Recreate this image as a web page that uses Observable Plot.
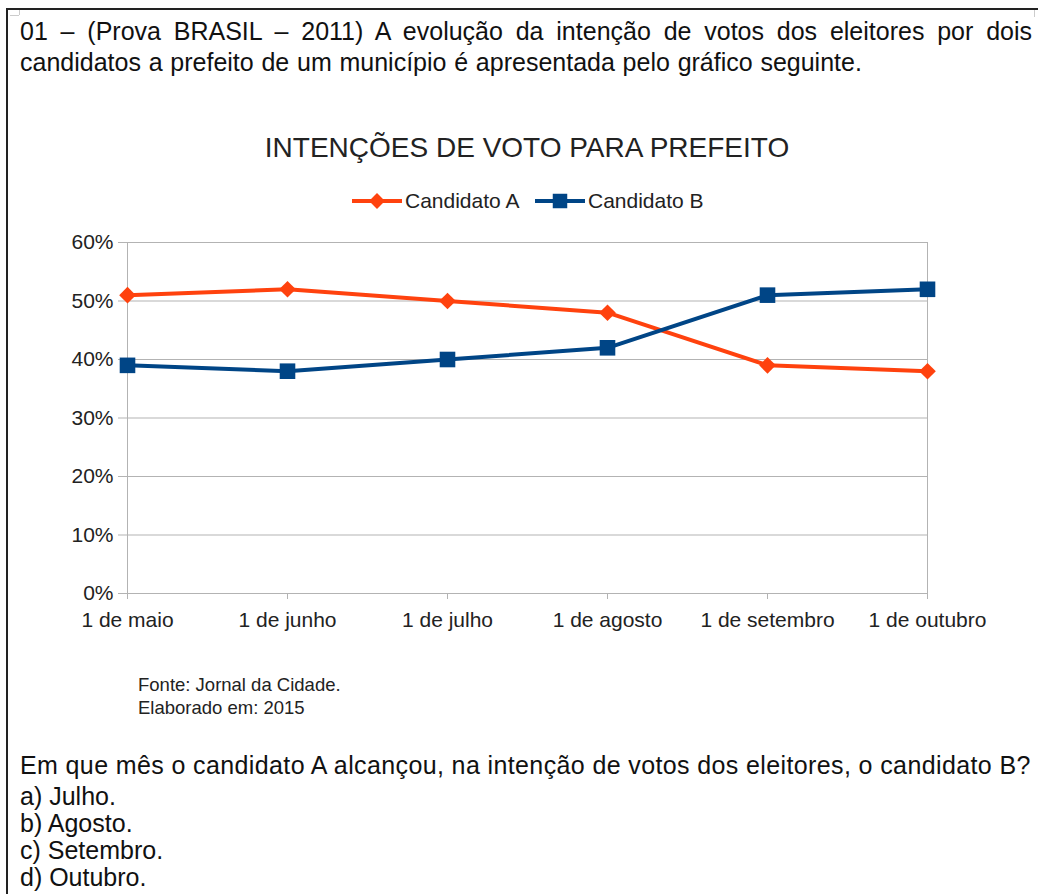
<!DOCTYPE html>
<html>
<head>
<meta charset="utf-8">
<script src="https://cdn.jsdelivr.net/npm/d3@7"></script>
<script src="https://cdn.jsdelivr.net/npm/@observablehq/plot@0.6"></script>
<style>
  html, body { margin: 0; padding: 0; background: #fff; }
  #page { position: relative; width: 1038px; height: 894px; overflow: hidden; font-family: "Liberation Sans", Arial, sans-serif; color: #111; }
  .abs { position: absolute; white-space: nowrap; }
  #frameTop { position: absolute; left: 6px; top: 8px; width: 1040px; height: 0; border-top: 2px solid #222; }
  #frameLeft { position: absolute; left: 6px; top: 8px; width: 0; height: 900px; border-left: 2px solid #222; }
  .q { font-size: 25px; line-height: 25px; }
  #chart { position: absolute; left: 0; top: 225px; }
</style>
</head>
<body>
<div id="page">
  <div id="frameTop"></div>
  <div id="frameLeft"></div>
  <div class="abs" style="left:10px;top:15px;width:9px;height:0;border-top:1px solid #ccc"></div>
  <div class="abs" style="left:19px;top:10px;width:0;height:5px;border-left:1px solid #ccc"></div>
  <div class="abs" style="left:1034px;top:10px;width:0;height:7px;border-left:1px solid #ccc"></div>

  <div class="abs q" id="l1" style="left:20px;top:19px;width:1012px;text-align:justify;text-align-last:justify;white-space:normal"></div>
  <div class="abs q" id="l2" style="left:20px;top:50px;word-spacing:0.8px"></div>

  <div class="abs" id="title" style="left:0;width:1054px;top:134px;text-align:center;font-size:28px;line-height:28px;color:#222"></div>
  <div class="abs" id="legend" style="left:0;top:188px;width:1038px;height:26px"></div>

  <div id="chart"></div>

  <div class="abs" id="src1" style="left:138px;top:676px;font-size:18.5px;line-height:18.5px;color:#222"></div>
  <div class="abs" id="src2" style="left:138px;top:699px;font-size:18.5px;line-height:18.5px;color:#222"></div>

  <div class="abs q" id="question" style="left:20px;top:753px;letter-spacing:0.38px"></div>
  <div id="answers"></div>
</div>
<script>
// ---- Data ----
const months = ["1 de maio", "1 de junho", "1 de julho", "1 de agosto", "1 de setembro", "1 de outubro"];
const seriesNames = ["Candidato A", "Candidato B"];
const candidatoA = [51, 52, 50, 48, 39, 38];
const candidatoB = [39, 38, 40, 42, 51, 52];
const yTicks = [0, 10, 20, 30, 40, 50, 60];
const colors = ["#ff420e", "#004586"];

const headerLines = [
  "01 – (Prova BRASIL – 2011) A evolução da intenção de votos dos eleitores por dois",
  "candidatos a prefeito de um município é apresentada pelo gráfico seguinte."
];
const chartTitle = "INTENÇÕES DE VOTO PARA PREFEITO";
const sourceLines = ["Fonte: Jornal da Cidade.", "Elaborado em: 2015"];
const questionText = "Em que mês o candidato A alcançou, na intenção de votos dos eleitores, o candidato B?";
const answers = ["a) Julho.", "b) Agosto.", "c) Setembro.", "d) Outubro."];

// ---- Texts ----
document.getElementById("l1").textContent = headerLines[0];
document.getElementById("l2").textContent = headerLines[1];
document.getElementById("title").textContent = chartTitle;
document.getElementById("src1").textContent = sourceLines[0];
document.getElementById("src2").textContent = sourceLines[1];
document.getElementById("question").textContent = questionText;
const ansDiv = document.getElementById("answers");
answers.forEach((a, i) => {
  const d = document.createElement("div");
  d.className = "abs q";
  d.style.left = "20px";
  d.style.top = (784 + i * 27) + "px";
  d.textContent = a;
  ansDiv.appendChild(d);
});

// ---- Legend ----
const leg = d3.select("#legend").append("svg").attr("width", 1038).attr("height", 26);
const legendItems = [
  {name: seriesNames[0], x: 352, color: colors[0], symbol: d3.symbolDiamond2, size: 160},
  {name: seriesNames[1], x: 535, color: colors[1], symbol: d3.symbolSquare, size: 210}
];
legendItems.forEach(it => {
  const g = leg.append("g").attr("transform", `translate(${it.x},13)`);
  g.append("line").attr("x1", 0).attr("x2", 50).attr("y1", 0).attr("y2", 0).attr("stroke", it.color).attr("stroke-width", 4);
  g.append("path").attr("d", d3.symbol(it.symbol, it.size)()).attr("transform", "translate(25,0)").attr("fill", it.color);
  g.append("text").attr("x", 53).attr("y", 0).attr("dy", "0.35em").attr("font-size", 21)
    .attr("font-family", "Liberation Sans, Arial, sans-serif").attr("fill", "#222").text(it.name);
});

// ---- Chart ----
const data = months.flatMap((m, i) => [
  {month: m, serie: seriesNames[0], v: candidatoA[i]},
  {month: m, serie: seriesNames[1], v: candidatoB[i]}
]);

const chart = Plot.plot({
  width: 1038,
  height: 413,
  marginLeft: 126,
  marginRight: 111,
  marginTop: 17,
  marginBottom: 45,
  style: {fontFamily: "Liberation Sans, Arial, sans-serif", fontSize: "21px", color: "#222", background: "transparent", overflow: "visible"},
  x: {type: "point", domain: months, padding: 0, label: null},
  y: {domain: [0, 60], label: null},
  color: {domain: seriesNames, range: colors},
  marks: [
    Plot.ruleY(yTicks, {stroke: "#b3b3b3", strokeWidth: 1}),
    Plot.ruleX([months[0], months[months.length - 1]], {y1: 0, y2: 60, stroke: "#b3b3b3", strokeWidth: 1}),
    Plot.axisY({ticks: yTicks, tickFormat: d => d + "%", tickSize: 8, tickPadding: 5, stroke: "#b3b3b3", label: null}),
    Plot.axisX({tickSize: 6, tickPadding: 13, stroke: "#b3b3b3", label: null}),
    Plot.line(data, {x: "month", y: "v", z: "serie", stroke: "serie", strokeWidth: 4}),
    Plot.dot(data.filter(d => d.serie === seriesNames[0]), {x: "month", y: "v", symbol: "diamond2", r: 7.5, fill: colors[0], stroke: "none"}),
    Plot.dot(data.filter(d => d.serie === seriesNames[1]), {x: "month", y: "v", symbol: "square", r: 8.8, fill: colors[1], stroke: "none"})
  ]
});
document.getElementById("chart").appendChild(chart);
</script>
</body>
</html>
